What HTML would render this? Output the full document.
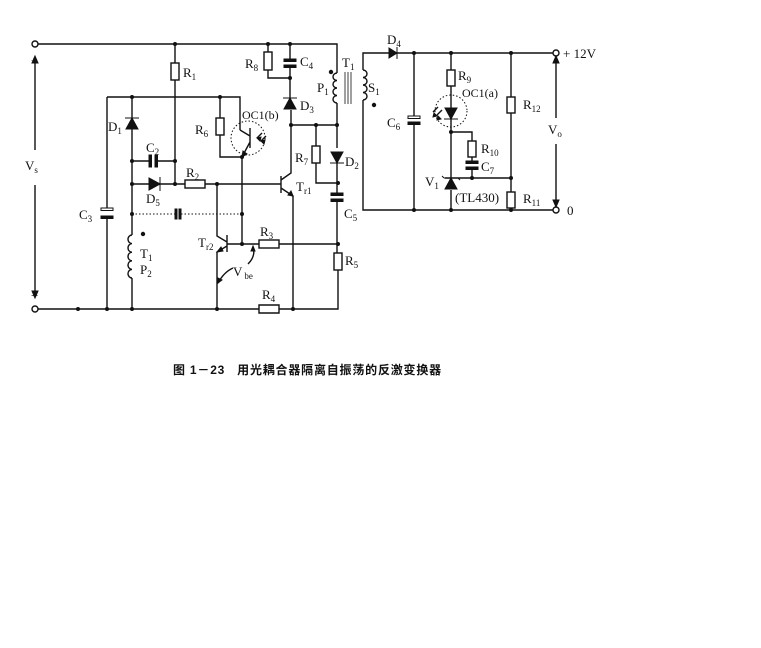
<!DOCTYPE html>
<html><head><meta charset="utf-8"><style>
html,body{margin:0;padding:0;background:#fff;}
svg{display:block}
text{font-family:"Liberation Serif","Noto Serif CJK SC",serif;font-size:13px;fill:#111}
.s{font-size:9px}
</style></head><body>
<svg width="761" height="648" viewBox="0 0 761 648" xmlns="http://www.w3.org/2000/svg">
<g stroke="#111" stroke-width="1.4" fill="none">
<path d="M38 44 H337 V73 M38 309 H338 V270"/>
<circle cx="35" cy="44" r="3" fill="#fff"/><circle cx="35" cy="309" r="3" fill="#fff"/>
<path d="M35 62 V150 M35 185 V292"/>
<path d="M175 44 V63 M175 80 V184"/><rect x="171" y="63" width="8" height="17" fill="#fff"/>
<path d="M107 97 H240 V130"/>
<path d="M107 97 V209 M107 218 V309"/>
<path d="M132 97 V184"/>
<path d="M132 161 H150 M156 161 H175"/>
<path d="M132 184 H185 M205 184 H281"/><rect x="185" y="180" width="20" height="8" fill="#fff"/>
<path d="M132 184 V235 M132 278 V309"/>
<path d="M132 235 a4 4.3 0 0 0 0 8.6 a4 4.3 0 0 0 0 8.6 a4 4.3 0 0 0 0 8.6 a4 4.3 0 0 0 0 8.6 a4 4.3 0 0 0 0 8.6"/>
<path d="M132 214 H175 M181 214 H242" stroke-dasharray="1.5 2" stroke-width="1"/>
<path d="M220 97 V118 M220 135 V157 H242"/><rect x="216" y="118" width="8" height="17" fill="#fff"/>
<path d="M240 130 L250 136 M250 142 L242 157 M250 128 V148"/>
<path d="M242 157 V244 M227 244 H259 M279 244 H338"/><rect x="259" y="240" width="20" height="8" fill="#fff"/>
<circle cx="248" cy="138" r="17" stroke-dasharray="1.5 2" stroke-width="1"/>
<path d="M262 133 l-5 5 M266 136 l-5 5"/>
<path d="M217 184 V236 L227 242 M227 235 V252 M227 246 L217 252 V309"/>
<path d="M259 305 h20 v8 h-20 z" fill="#fff"/>
<path d="M281 176 V193 M281 180 L291 173 V110 M281 188 L293 196 V309"/>
<path d="M268 44 V52 M268 70 V78 H290 M290 44 V60 M290 66 V98"/><rect x="264" y="52" width="8" height="18" fill="#fff"/>
<path d="M291 125 H337 V148 M337 103 V125 M316 125 V146 M316 163 V183 H338 M337 163 V194 M337 200 V253"/>
<rect x="312" y="146" width="8" height="17" fill="#fff"/>
<rect x="334" y="253" width="8" height="17" fill="#fff"/>
<path d="M337 73 a4 3.75 0 0 0 0 7.5 a4 3.75 0 0 0 0 7.5 a4 3.75 0 0 0 0 7.5 a4 3.75 0 0 0 0 7.5"/>
<path d="M345 72 V104 M348 72 V104 M351 72 V104" stroke-width="0.8"/>
<path d="M363 70 a4 3.75 0 0 1 0 7.5 a4 3.75 0 0 1 0 7.5 a4 3.75 0 0 1 0 7.5 a4 3.75 0 0 1 0 7.5"/>
<path d="M363 70 V53 H389 M397 53 H553 M363 100 V210 H553"/>
<circle cx="556" cy="53" r="3" fill="#fff"/><circle cx="556" cy="210" r="3" fill="#fff"/>
<path d="M556 60 V118 M556 144 V202"/>
<path d="M414 53 V117 M414 123 V210"/>
<path d="M451 53 V70 M451 86 V178 M451 190 V210"/><rect x="447" y="70" width="8" height="16" fill="#fff"/>
<circle cx="451" cy="111" r="16" stroke-dasharray="1.5 2" stroke-width="1"/>
<path d="M438 107 l-5 5 M442 110 l-5 5"/>
<path d="M451 132 H472 V141 M472 157 V162 M472 168 V178 M445 178 H511"/><rect x="468" y="141" width="8" height="16" fill="#fff"/>
<path d="M511 53 V97 M511 113 V192 M511 208 V210"/>
<rect x="507" y="97" width="8" height="16" fill="#fff"/><rect x="507" y="192" width="8" height="16" fill="#fff"/>
<path d="M253 247 Q256 256 248 264 M233 268 Q224 272 218 283"/>
</g>
<g fill="#111" stroke="#111" stroke-width="1">
<path d="M35 56 l-3 7 h6 z M35 298 l-3 -7 h6 z"/>
<path d="M556 56 l-3 7 h6 z M556 207 l-3 -7 h6 z"/>
<rect x="101" y="208" width="12" height="2.5" fill="#fff"/><rect x="101" y="216" width="12" height="2.5"/>
<rect x="149" y="155" width="2.5" height="12"/><rect x="155" y="155" width="2.5" height="12"/>
<rect x="175" y="209" width="2" height="10"/><rect x="179" y="209" width="2" height="10"/>
<rect x="284" y="59" width="12" height="2.5"/><rect x="284" y="65" width="12" height="2.5"/>
<rect x="331" y="193" width="12" height="2.5"/><rect x="331" y="199" width="12" height="2.5"/>
<rect x="408" y="116" width="12" height="2.5" fill="#fff"/><rect x="408" y="122" width="12" height="2.5"/>
<rect x="466" y="161" width="12" height="2.5"/><rect x="466" y="167" width="12" height="2.5"/>
<path d="M132 118 l-6 11 h12 z M125 118 h14"/>
<path d="M160 184 l-11 -6 v12 z M160 177 v14"/>
<path d="M290 98 l-6 11 h12 z M283 98 h14"/>
<path d="M337 163 l-6 -11 h12 z M330 163 h14"/>
<path d="M397 53 l-8 -5 v10 z M397 47 v12"/>
<path d="M451 119 l-6 -11 h12 z M444 119 h14"/>
<path d="M451 178 l-6 11 h12 z M444 178 h14 M444 178 l-2 -2 M458 178 l2 2"/>
<path d="M242 157 l1 -6 l4 3 z M293 196 l-5 -1 l3 -4 z M217 252 l4 -5 l2 4 z"/>
<path d="M257 138 l4 -1 l-1 4 z M261 141 l4 -1 l-1 4 z M433 117 l1 -4 l3 3 z M437 120 l1 -4 l3 3 z"/>
<path d="M253 246 l-2 5 l4 0 z M218 283 l0 -5 l4 2 z"/>
</g>
<g fill="#111">
<circle cx="175" cy="44" r="2"/><circle cx="268" cy="44" r="2"/><circle cx="290" cy="44" r="2"/>
<circle cx="132" cy="97" r="2"/><circle cx="220" cy="97" r="2"/><circle cx="290" cy="78" r="2"/>
<circle cx="132" cy="161" r="2"/><circle cx="175" cy="161" r="2"/><circle cx="132" cy="184" r="2"/><circle cx="175" cy="184" r="2"/>
<circle cx="217" cy="184" r="2"/><circle cx="132" cy="214" r="2"/><circle cx="242" cy="214" r="2"/><circle cx="242" cy="157" r="2"/>
<circle cx="242" cy="244" r="2"/><circle cx="338" cy="244" r="2"/><circle cx="78" cy="309" r="2"/><circle cx="107" cy="309" r="2"/>
<circle cx="132" cy="309" r="2"/><circle cx="217" cy="309" r="2"/><circle cx="293" cy="309" r="2"/>
<circle cx="291" cy="125" r="2"/><circle cx="316" cy="125" r="2"/><circle cx="337" cy="125" r="2"/><circle cx="338" cy="183" r="2"/>
<circle cx="331" cy="72" r="2.2"/><circle cx="374" cy="105" r="2.2"/><circle cx="143" cy="234" r="2.2"/>
<circle cx="414" cy="53" r="2"/><circle cx="451" cy="53" r="2"/><circle cx="511" cy="53" r="2"/>
<circle cx="414" cy="210" r="2"/><circle cx="451" cy="210" r="2"/><circle cx="511" cy="210" r="2"/>
<circle cx="451" cy="132" r="2"/><circle cx="472" cy="178" r="2"/><circle cx="511" cy="178" r="2"/>
</g>
<text x="31" y="64" class="s">+</text><text x="31" y="300">−</text>
<text x="25" y="170">V<tspan class="s" dy="3">s</tspan></text>
<text x="183" y="77">R<tspan class="s" dy="3">1</tspan></text>
<text x="108" y="131">D<tspan class="s" dy="3">1</tspan></text>
<text x="146" y="152">C<tspan class="s" dy="3">2</tspan></text>
<text x="186" y="177">R<tspan class="s" dy="3">2</tspan></text>
<text x="146" y="203">D<tspan class="s" dy="3">5</tspan></text>
<text x="79" y="219">C<tspan class="s" dy="3">3</tspan></text>
<text x="140" y="258">T<tspan class="s" dy="3">1</tspan></text>
<text x="140" y="274">P<tspan class="s" dy="3">2</tspan></text>
<text x="195" y="134">R<tspan class="s" dy="3">6</tspan></text>
<text x="242" y="119" style="font-size:12px">OC1(b)</text>
<text x="198" y="247">T<tspan class="s" dy="3">r2</tspan></text>
<text x="260" y="236">R<tspan class="s" dy="3">3</tspan></text>
<text x="262" y="299">R<tspan class="s" dy="3">4</tspan></text>
<text x="233" y="276">V<tspan class="s" dx="2" dy="3">be</tspan></text>
<text x="296" y="191">T<tspan class="s" dy="3">r1</tspan></text>
<text x="245" y="68">R<tspan class="s" dy="3">8</tspan></text>
<text x="300" y="66">C<tspan class="s" dy="3">4</tspan></text>
<text x="300" y="110">D<tspan class="s" dy="3">3</tspan></text>
<text x="295" y="162">R<tspan class="s" dy="3">7</tspan></text>
<text x="345" y="166">D<tspan class="s" dy="3">2</tspan></text>
<text x="344" y="218">C<tspan class="s" dy="3">5</tspan></text>
<text x="345" y="265">R<tspan class="s" dy="3">5</tspan></text>
<text x="317" y="92">P<tspan class="s" dy="3">1</tspan></text>
<text x="342" y="67">T<tspan class="s" dy="3">1</tspan></text>
<text x="368" y="92">S<tspan class="s" dy="3">1</tspan></text>
<text x="387" y="44">D<tspan class="s" dy="3">4</tspan></text>
<text x="387" y="127">C<tspan class="s" dy="3">6</tspan></text>
<text x="458" y="80">R<tspan class="s" dy="3">9</tspan></text>
<text x="462" y="97" style="font-size:12px">OC1(a)</text>
<text x="481" y="153">R<tspan class="s" dy="3">10</tspan></text>
<text x="481" y="171">C<tspan class="s" dy="3">7</tspan></text>
<text x="425" y="186">V<tspan class="s" dy="3">1</tspan></text>
<text x="455" y="202">(TL430)</text>
<text x="523" y="109">R<tspan class="s" dy="3">12</tspan></text>
<text x="523" y="203">R<tspan class="s" dy="3">11</tspan></text>
<text x="548" y="134">V<tspan class="s" dy="3">o</tspan></text>
<text x="563" y="58">+ 12V</text>
<text x="567" y="215">0</text>
<text x="173" y="374" style="font-family:'Liberation Sans','Noto Sans CJK SC',sans-serif;font-size:12px;font-weight:bold;letter-spacing:0.8px">图 1－23<tspan dx="12">用光耦合器隔离自振荡的反激变换器</tspan></text>
</svg>
</body></html>
